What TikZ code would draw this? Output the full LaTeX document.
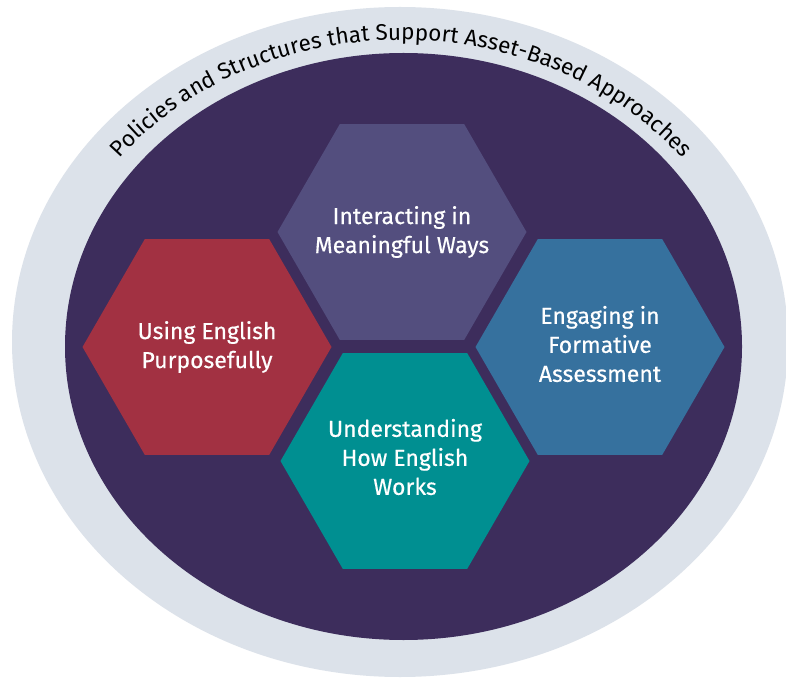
\documentclass[tikz,border=0pt]{standalone}
\usepackage{fontspec}
\setmainfont{Fira Sans}
\newfontfamily\hexfontfam{Fira Sans}[FakeBold=0.4]
\usetikzlibrary{shapes.geometric,decorations.text}
\definecolor{bandc}{RGB}{220,226,234}
\definecolor{innerc}{RGB}{61,45,92}
\definecolor{hexpurple}{RGB}{83,78,126}
\definecolor{hexred}{RGB}{162,49,66}
\definecolor{hexblue}{RGB}{54,113,158}
\definecolor{hexteal}{RGB}{0,143,145}
\newcommand\curvefont{\fontsize{22.5}{27}\selectfont}
\tikzset{
  hexnode/.style={regular polygon, regular polygon sides=6, minimum size=249pt,
    inner sep=0pt, draw=none},
  hextext/.style={text=white, align=center, inner sep=0pt,
    font=\hexfontfam\fontsize{23}{29}\selectfont}
}
\begin{document}
\begin{tikzpicture}[x=1pt,y=1pt]
\useasboundingbox (0,0) rectangle (786,686);
\fill[white] (0,0) rectangle (786,686);
\fill[bandc] (400,344) ellipse [x radius=388, y radius=335];
\fill[innerc] (403.5,339.5) ellipse [x radius=338.5, y radius=293.5];
\node[hexnode, fill=hexpurple] (interact) at (402,454) {};
\node[hexnode, fill=hexred] (using) at (207,339) {};
\node[hexnode, fill=hexblue] (engage) at (600,339) {};
\node[hexnode, fill=hexteal] (under) at (405,225) {};
\node[hextext] (interactT) at (interact.center) {Interacting in\\Meaningful Ways};
\node[hextext] (usingT) at (using.center) {Using English\\Purposefully};
\node[hextext] (engageT) at ([yshift=3pt]engage.center) {Engaging in\\Formative\\Assessment};
\node[hextext] (underT) at ([yshift=4pt]under.center) {Understanding\\How English\\Works};
\path[decorate, decoration={text along path, text align=center,
  text={|\curvefont|Policies and Structures that Support Asset-Based Approaches}}]
  (93.6,494) arc[start angle=150, end angle=30, x radius=355, y radius=304];
\end{tikzpicture}
\end{document}
